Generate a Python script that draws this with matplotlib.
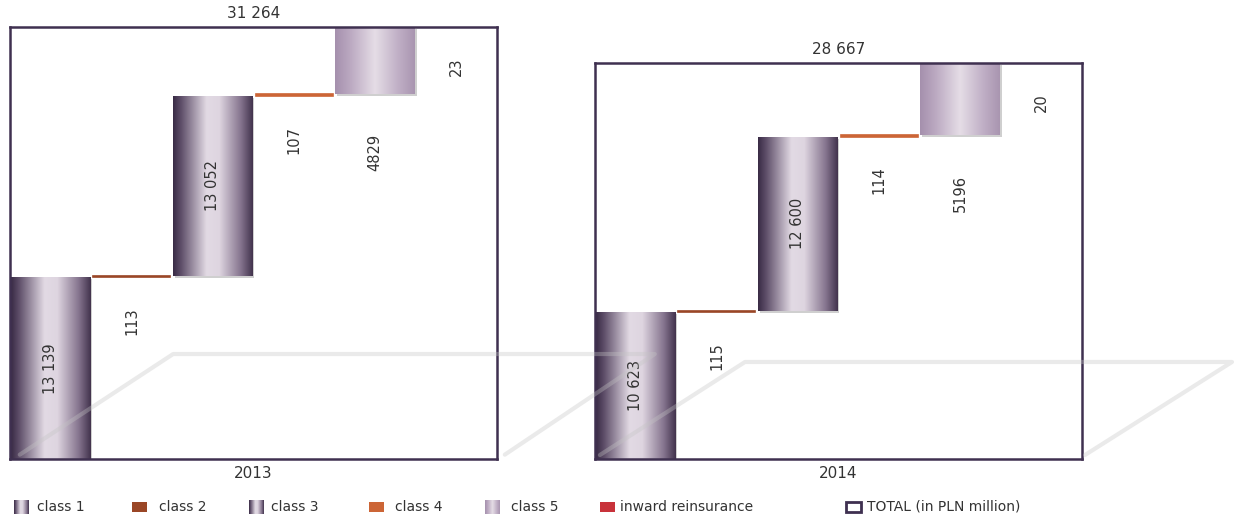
import numpy as np
import matplotlib
matplotlib.use("Agg")
from matplotlib import pyplot as plt
from matplotlib.colors import LinearSegmentedColormap
from matplotlib.patches import Rectangle
from matplotlib.lines import Line2D

# premium breakdown by class (PLN million)
categories = ["class 1", "class 2", "class 3", "class 4", "class 5", "inward reinsurance"]
years = ["2013", "2014"]
values_2013 = [13139, 113, 13052, 107, 4829, 23]
values_2014 = [10623, 115, 12600, 114, 5196, 20]
totals = [31264, 28667]
total_label = "TOTAL (in PLN million)"

W, H = 1234, 519
DARK = "#3f3050"
TXT = "#333333"
FAM = ["Liberation Sans Narrow", "DejaVu Sans"]

grad_dark = LinearSegmentedColormap.from_list(
    "grad_dark", [(0.0, "#392b45"), (0.1, "#5e4e69"), (0.42, "#e2dae4"),
                  (0.58, "#ded5e0"), (0.85, "#85748e"), (1.0, "#42334d")])
grad_light = LinearSegmentedColormap.from_list(
    "grad_light", [(0.0, "#a590ad"), (0.2, "#bcaac2"), (0.5, "#e5dde6"),
                   (0.8, "#bfaec5"), (1.0, "#a995b0")])
fills = [grad_dark, "#9a4626", grad_dark, "#cc6536", grad_light, "#c8323a"]

grad_row = np.linspace(0, 1, 256).reshape(1, -1)


def fmt(v):
    return f"{v:,}".replace(",", " ") if v >= 10000 else str(v)


def draw_panel(rect, values, total, year, floor):
    ax = fig.add_axes(rect)
    x = np.arange(len(values))
    bottoms = np.concatenate([[0], np.cumsum(values)[:-1]])
    ax.set_xlim(-0.5, len(values) - 0.5)
    ax.set_ylim(0, total)

    for i, (v, b, f) in enumerate(zip(values, bottoms, fills)):
        if isinstance(f, str):
            # thin steps drawn as flat bars with a visible edge
            ax.bar(x[i], v, bottom=b, width=0.95, color=f, edgecolor=f,
                   linewidth=1.2, zorder=3)
        else:
            bar = ax.bar(x[i], v, bottom=b, width=0.98, facecolor="none",
                         edgecolor="none", zorder=3)[0]
            sh = Rectangle((bar.get_x(), b), bar.get_width(), v,
                           facecolor="#777777", alpha=0.35, edgecolor="none",
                           zorder=2.5)
            ax.add_patch(sh)
            sh.set_transform(ax.transData + matplotlib.transforms.ScaledTranslation(
                1.5 / 100, -2 / 100, fig.dpi_scale_trans))
            im = ax.imshow(grad_row, cmap=f, aspect="auto", zorder=3,
                           extent=(bar.get_x(), bar.get_x() + bar.get_width(), b, b + v))
            im.set_clip_path(bar)

        if v > 8000:
            ax.text(x[i], b + v / 2, fmt(v), rotation=90, ha="center", va="center",
                    fontsize=10.5, color=TXT, zorder=6)
        else:
            gap = 40 if v > 1000 else 30
            ax.annotate(fmt(v), (x[i], b), xytext=(0, -gap), textcoords="offset pixels",
                        rotation=90, ha="center", va="top", fontsize=10.5, color=TXT,
                        zorder=6, annotation_clip=False)

    ax.annotate(fmt(total), (0.5, 1), xycoords="axes fraction", xytext=(0, 13),
                textcoords="offset pixels", ha="center", va="center",
                fontsize=11, color=TXT, family=FAM)
    ax.annotate(year, (0.5, 0), xycoords="axes fraction", xytext=(0, -15),
                textcoords="offset pixels", ha="center", va="center",
                fontsize=11, color=TXT, family=FAM)

    ax.set_xticks([])
    ax.set_yticks([])
    for s in ax.spines.values():
        s.set_color(DARK)
        s.set_linewidth(1.8)
        s.set_zorder(7)
    ax.patch.set_alpha(0)

    # faint perspective floor, drawn above both panels
    fx, fy = zip(*floor)
    fig.add_artist(Line2D(fx, fy, transform=ax.transAxes, color="#c4c4c4", lw=3,
                          alpha=0.35, zorder=10, solid_capstyle="round",
                          solid_joinstyle="round"))
    return ax


fig = plt.figure(figsize=(W / 100, H / 100), dpi=100)

floor_1 = [(0.02, 0.01), (0.335, 0.243), (1.324, 0.243), (1.016, 0.01)]
floor_2 = [(0.01, 0.01), (0.308, 0.245), (1.308, 0.245), (1.006, 0.01)]
draw_panel([10 / W, 60 / H, 487 / W, 432 / H], values_2013, totals[0], years[0], floor_1)
draw_panel([595 / W, 60 / H, 487 / W, 396 / H], values_2014, totals[1], years[1], floor_2)

# legend strip along the bottom
lg = fig.add_axes([0, 0, 1, 40 / H])
icon_x = [14, 132, 249, 369, 485, 600]
text_x = [37, 159, 271, 395, 511, 620]
for cat, f, ix, tx in zip(categories, fills, icon_x, text_x):
    if isinstance(f, str):
        lg.add_patch(Rectangle((ix, 7), 15, 10, facecolor=f, edgecolor="none"))
    else:
        lg.imshow(grad_row, cmap=f, aspect="auto", extent=(ix, ix + 15, 5, 19))
    lg.text(tx, 12, cat, va="center", ha="left", fontsize=10, color=TXT, family=FAM)
lg.add_patch(Rectangle((846, 7), 15, 10, facecolor="none", edgecolor=DARK, lw=2))
lg.text(867, 12, total_label, va="center", ha="left", fontsize=10, color=TXT, family=FAM)
lg.set_xlim(0, W)
lg.set_ylim(0, 40)
lg.axis("off")

fig.savefig("out.png", dpi=100)
